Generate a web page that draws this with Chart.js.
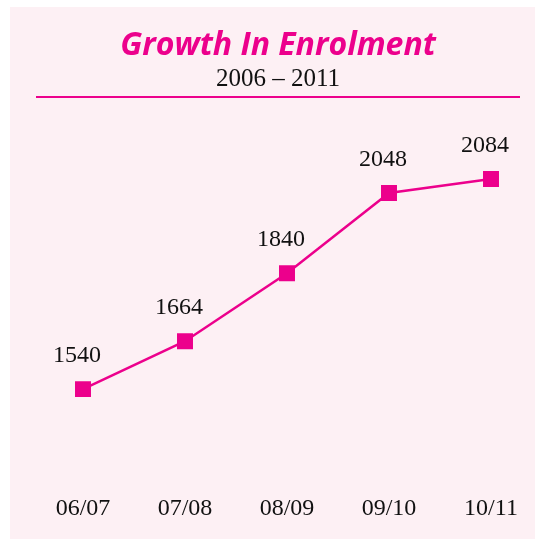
<!DOCTYPE html>
<html>
<head>
<meta charset="utf-8">
<script src="https://cdn.jsdelivr.net/npm/chart.js@4.4.0/dist/chart.umd.min.js"></script>
<style>
  html, body { margin: 0; padding: 0; background: #ffffff; overflow: hidden; }
  #wrap { position: absolute; left: 0; top: 0; width: 535px; height: 539px; }
  canvas { display: block; }
</style>
</head>
<body>
<div id="wrap"><canvas id="c" width="535" height="539"></canvas></div>
<script>
const titleText = "Growth In Enrolment";
const subtitleText = "2006 – 2011";
const categories = ["06/07", "07/08", "08/09", "09/10", "10/11"];
const enrolment = [1540, 1664, 1840, 2048, 2084];

const PINK = "#ec008c";
const PANEL = "#fdf0f4";

const panelPlugin = {
  id: "panel",
  beforeDraw(chart) {
    const ctx = chart.ctx;
    ctx.save();
    ctx.fillStyle = PANEL;
    ctx.fillRect(10, 7, chart.width - 10, chart.height - 7);
    ctx.textAlign = "center";
    ctx.textBaseline = "alphabetic";
    ctx.fillStyle = PINK;
    ctx.font = "italic bold 32px 'Open Sans'";
    ctx.fillText(titleText, 278, 55);
    ctx.fillStyle = "#111111";
    ctx.font = "25px 'Liberation Serif'";
    ctx.fillText(subtitleText, 278, 86);
    ctx.strokeStyle = PINK;
    ctx.lineWidth = 2;
    ctx.beginPath();
    ctx.moveTo(36, 97);
    ctx.lineTo(520, 97);
    ctx.stroke();
    ctx.restore();
  }
};

const valueLabels = {
  id: "valueLabels",
  afterDatasetsDraw(chart) {
    const ctx = chart.ctx;
    const meta = chart.getDatasetMeta(0);
    ctx.save();
    ctx.fillStyle = "#111111";
    ctx.font = "24px 'Liberation Serif'";
    ctx.textAlign = "center";
    ctx.textBaseline = "alphabetic";
    meta.data.forEach((pt, i) => {
      ctx.fillText(String(enrolment[i]), pt.x - 6, pt.y - 27);
    });
    ctx.restore();
  }
};

new Chart(document.getElementById("c"), {
  type: "line",
  data: {
    labels: categories,
    datasets: [{
      data: enrolment,
      borderColor: PINK,
      backgroundColor: PINK,
      borderWidth: 2.5,
      pointStyle: "rect",
      pointRadius: 11.3,
      pointBorderWidth: 0,
      pointBackgroundColor: PINK,
      tension: 0,
      fill: false
    }]
  },
  options: {
    responsive: false,
    animation: false,
    events: [],
    layout: { padding: { left: 83, right: 44, top: 96, bottom: 4 } },
    plugins: {
      legend: { display: false },
      title: { display: false },
      tooltip: { enabled: false }
    },
    scales: {
      x: {
        offset: false,
        grid: { display: false, drawTicks: false },
        border: { display: false },
        ticks: {
          padding: 12,
          color: "#111111",
          font: { family: "'Liberation Serif'", size: 24 }
        }
      },
      y: {
        display: false,
        min: 1299,
        max: 2299
      }
    }
  },
  plugins: [panelPlugin, valueLabels]
});
</script>
</body>
</html>
